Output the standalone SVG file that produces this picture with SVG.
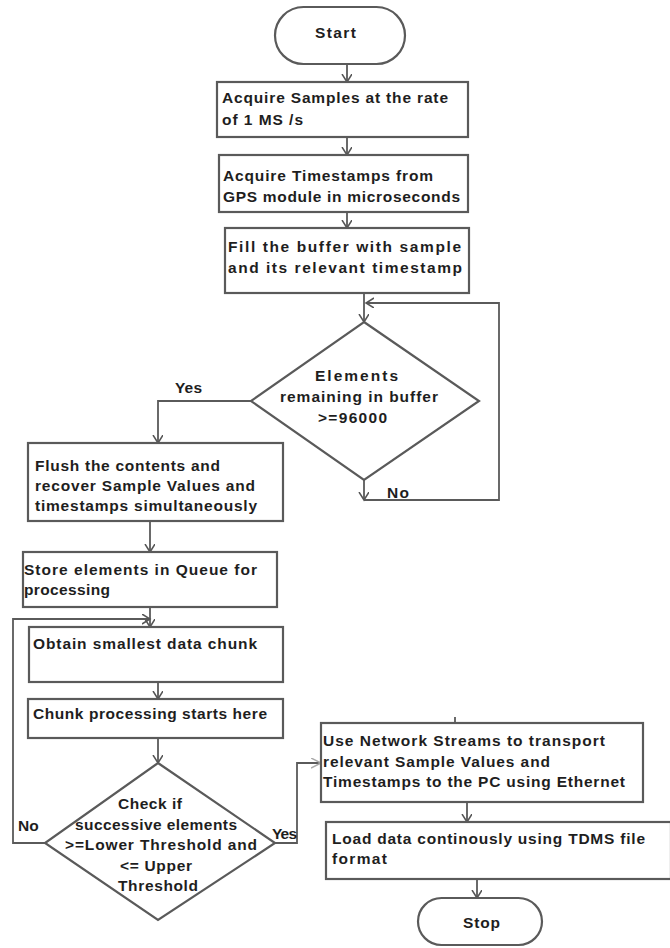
<svg xmlns="http://www.w3.org/2000/svg" width="670" height="948" viewBox="0 0 670 948">
<defs>
<marker id="ah" markerUnits="userSpaceOnUse" markerWidth="12" markerHeight="12" refX="8" refY="5" orient="auto">
<path d="M0,0 L8,5 L0,10" fill="none" stroke="#555" stroke-width="1.5"/>
</marker>
<marker id="ahg" markerUnits="userSpaceOnUse" markerWidth="14" markerHeight="12" refX="10" refY="5" orient="auto">
<path d="M0,0 L10,5 L0,10" fill="none" stroke="#aaa" stroke-width="1.5"/>
</marker>
<style>
.n{fill:#fff;stroke:#5a5a5a;stroke-width:2.2}
.t{font-family:"Liberation Sans",Arial,sans-serif;font-weight:bold;font-size:15.5px;fill:#1e1e1e}
.e{fill:none;stroke:#5a5a5a;stroke-width:1.8}
</style>
</defs>
<rect width="670" height="948" fill="#fff"/>
<g id="connectors">
<path class="e" d="M347,64 V82" marker-end="url(#ah)"/>
<path class="e" d="M347,137 V155" marker-end="url(#ah)"/>
<path class="e" d="M347,212 V228" marker-end="url(#ah)"/>
<path class="e" d="M364,293 V322" marker-end="url(#ah)"/>
<path class="e" d="M364,480 V500" marker-end="url(#ah)"/>
<path class="e" d="M364,500 H499 V303 H366" marker-end="url(#ah)"/>
<path class="e" d="M251,401 H158 V443" marker-end="url(#ah)"/>
<path class="e" d="M150,521 V552" marker-end="url(#ah)"/>
<path class="e" d="M150,607 V627" marker-end="url(#ah)"/>
<path class="e" d="M45,843 H13 V619 H150" marker-end="url(#ah)"/>
<path class="e" d="M158,682 V699" marker-end="url(#ah)"/>
<path class="e" d="M158,738 V763" marker-end="url(#ah)"/>
<path class="e" d="M275,843 H297 V763 H321" marker-end="url(#ahg)"/>
<path class="e" d="M467,802 V822" marker-end="url(#ah)"/>
<path class="e" d="M477,879 V898" marker-end="url(#ah)"/>
<path class="e" d="M455,717 V723" stroke-width="1.2"/>
</g>
<g id="start">
<rect class="n" x="275" y="7" width="130" height="57" rx="28.5"/>
<text class="t" x="315" y="38" textLength="41">Start</text>
</g>
<g id="acquire-samples">
<rect class="n" x="217" y="82" width="251" height="55"/>
<text class="t" x="222" y="103" textLength="226">Acquire Samples at the rate</text>
<text class="t" x="222" y="125" textLength="81">of 1 MS /s</text>
</g>
<g id="acquire-timestamps">
<rect class="n" x="219" y="155" width="249" height="57"/>
<text class="t" x="223" y="181" textLength="210">Acquire Timestamps from</text>
<text class="t" x="223" y="202" textLength="237">GPS module in microseconds</text>
</g>
<g id="fill-buffer">
<rect class="n" x="225" y="228" width="244" height="65"/>
<text class="t" x="228" y="252" textLength="233">Fill the buffer with sample</text>
<text class="t" x="228" y="273" textLength="234">and its relevant timestamp</text>
</g>
<g id="elements-remaining">
<polygon class="n" points="364,322 479,401 364,480 251,401"/>
<text class="t" x="315" y="381" textLength="83">Elements</text>
<text class="t" x="280" y="402" textLength="158">remaining in buffer</text>
<text class="t" x="318" y="423" textLength="69">&gt;=96000</text>
</g>
<text class="t" x="175" y="393" textLength="27">Yes</text>
<text class="t" x="387" y="498" textLength="22">No</text>
<g id="flush">
<rect class="n" x="28" y="443" width="255" height="78"/>
<text class="t" x="35" y="471" textLength="185">Flush the contents and</text>
<text class="t" x="35" y="491" textLength="220">recover Sample Values and</text>
<text class="t" x="35" y="511" textLength="222">timestamps simultaneously</text>
</g>
<g id="store-queue">
<rect class="n" x="23" y="552" width="254" height="55"/>
<text class="t" x="24" y="575" textLength="233">Store elements in Queue for</text>
<text class="t" x="24" y="595" textLength="86">processing</text>
</g>
<g id="obtain-chunk">
<rect class="n" x="29" y="627" width="254" height="55"/>
<text class="t" x="33" y="649" textLength="224">Obtain smallest data chunk</text>
</g>
<g id="chunk-processing">
<rect class="n" x="28" y="699" width="255" height="39"/>
<text class="t" x="33" y="719" textLength="234">Chunk processing starts here</text>
</g>
<g id="check-threshold">
<polygon class="n" points="158,763 275,843 158,920 45,843"/>
<text class="t" x="118" y="809" textLength="64">Check if</text>
<text class="t" x="75" y="830" textLength="162">successive elements</text>
<text class="t" x="65" y="850" textLength="192">&gt;=Lower Threshold and</text>
<text class="t" x="120" y="871" textLength="72">&lt;= Upper</text>
<text class="t" x="118" y="891" textLength="80">Threshold</text>
</g>
<text class="t" x="18" y="831">No</text>
<text class="t" x="272" y="839" textLength="25">Yes</text>
<g id="network-streams">
<rect class="n" x="321" y="723" width="322" height="79"/>
<text class="t" x="323" y="746" textLength="282">Use Network Streams to transport</text>
<text class="t" x="323" y="767" textLength="227">relevant Sample Values and</text>
<text class="t" x="323" y="787" textLength="302">Timestamps to the PC using Ethernet</text>
</g>
<g id="load-tdms">
<rect class="n" x="326" y="822" width="345" height="57"/>
<text class="t" x="332" y="844" textLength="313">Load data continously using TDMS file</text>
<text class="t" x="332" y="864" textLength="55">format</text>
</g>
<g id="stop">
<rect class="n" x="418" y="898" width="124" height="47" rx="23.5"/>
<text class="t" x="463" y="928" textLength="37">Stop</text>
</g>
</svg>
